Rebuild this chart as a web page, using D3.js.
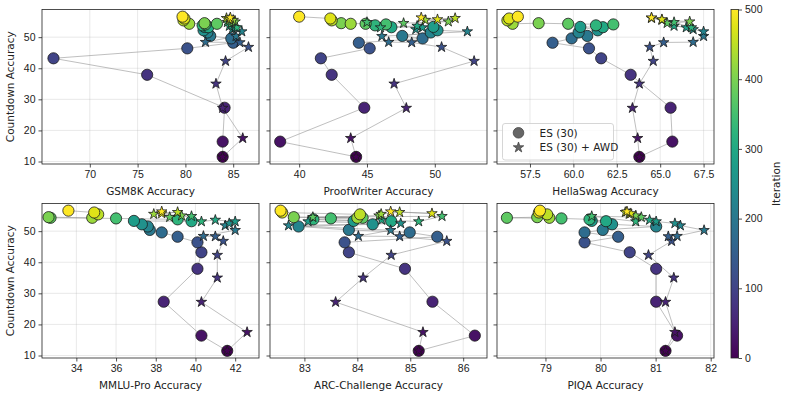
<!DOCTYPE html>
<html>
<head>
<meta charset="utf-8">
<script src="https://cdn.jsdelivr.net/npm/d3@7"></script>
<style>
  body { margin: 0; background: #fff; }
  svg { font-family: "DejaVu Sans", sans-serif; }
</style>
</head>
<body>
<svg id="chart"></svg>
<script>
// Iterations at which both runs were evaluated
const iterations = [0, 25, 50, 75, 100, 125, 150, 175, 200, 225, 250, 275, 300, 325, 350, 375, 400, 425, 450, 475, 500];

// Countdown accuracy (shared y value)
const countdownES  = [11.5, 16.4, 27.3, 37.9, 43.2, 46.4, 48.2, 49.6, 50.4, 51.5, 52.2, 53.3, 53.2, 53.8, 54.1, 54.3, 54.5, 54.3, 55.4, 56.0, 56.6];
const countdownAWD = [11.5, 17.5, 27.2, 35.0, 42.3, 46.8, 48.3, 48.4, 50.3, 51.8, 52.5, 53.1, 53.6, 53.1, 54.8, 54.5, 55.0, 55.5, 56.1, 55.7, 56.3];

// Benchmark accuracy per iteration
const gsm8kES  = [83.9, 83.9, 84.1, 76.0, 66.2, 80.2, 85.0, 84.8, 82.6, 82.3, 81.9, 82.0, 82.4, 81.8, 82.1, 83.3, 82.0, 80.4, 79.8, 79.9, 79.7];
const gsm8kAWD = [83.9, 86.0, 83.9, 83.2, 84.2, 86.6, 85.7, 82.1, 85.3, 85.9, 84.9, 85.2, 84.6, 85.4, 84.4, 84.8, 85.2, 85.0, 84.3, 84.6, 84.7];

const proofES  = [44.2, 38.6, 44.8, 42.4, 41.6, 45.2, 44.4, 49.1, 47.6, 49.7, 50.2, 49.9, 46.8, 45.6, 46.4, 44.9, 43.1, 43.8, 42.4, 42.3, 40.0];
const proofAWD = [44.2, 43.8, 47.9, 47.0, 52.9, 50.5, 48.3, 46.6, 46.1, 52.4, 48.6, 49.1, 48.7, 46.0, 45.0, 47.7, 51.0, 49.3, 51.5, 50.2, 49.0];

const hellaES  = [63.8, 65.7, 65.6, 63.3, 61.6, 60.9, 58.8, 59.9, 60.8, 60.3, 61.4, 60.4, 61.7, 61.3, 62.3, 59.7, 58.0, 56.5, 56.2, 56.3, 56.8];
const hellaAWD = [63.8, 63.7, 63.4, 63.8, 64.6, 64.4, 65.2, 66.9, 67.5, 67.5, 66.9, 66.5, 65.8, 66.8, 65.8, 65.4, 66.7, 65.1, 64.5, 65.1, 64.5];

const mmluES  = [41.6, 40.3, 38.4, 40.1, 40.3, 40.1, 39.1, 38.3, 37.7, 37.6, 37.3, 36.9, 39.8, 39.1, 36.0, 32.7, 32.6, 34.8, 35.1, 34.9, 33.6];
const mmluAWD = [41.6, 42.6, 40.3, 41.1, 41.1, 41.4, 41.0, 40.4, 42.0, 41.5, 41.7, 42.0, 41.0, 40.3, 39.8, 38.7, 39.3, 37.9, 39.1, 38.3, 38.3];

const arcES  = [85.16, 86.22, 85.42, 84.90, 83.84, 83.76, 85.51, 84.99, 83.84, 82.89, 84.29, 83.93, 84.64, 83.17, 83.50, 84.10, 82.80, 84.00, 84.05, 82.58, 82.55];
const arcAWD = [85.16, 85.24, 83.59, 84.11, 84.64, 85.69, 84.80, 84.02, 84.63, 82.70, 84.82, 83.07, 84.46, 85.16, 85.60, 83.16, 84.41, 84.45, 84.80, 85.41, 84.63];

const piqaES  = [81.18, 81.39, 81.01, 81.01, 80.53, 79.71, 80.32, 79.71, 80.04, 81.01, 80.21, 79.84, 80.10, 79.80, 79.29, 78.30, 78.85, 79.07, 79.03, 78.88, 78.90];
const piqaAWD = [81.18, 81.35, 81.18, 81.33, 80.87, 81.29, 81.23, 81.39, 81.88, 81.45, 81.35, 81.01, 80.89, 80.64, 79.84, 80.74, 80.64, 80.52, 80.45, 80.55, 80.48];

const benchmarks = ["GSM8K", "ProofWriter", "HellaSwag", "MMLU-Pro", "ARC-Challenge", "PIQA"];
const esValues  = [gsm8kES, proofES, hellaES, mmluES, arcES, piqaES];
const awdValues = [gsm8kAWD, proofAWD, hellaAWD, mmluAWD, arcAWD, piqaAWD];
const xLimits = [[65.0, 87.7], [37.85, 53.85], [55.6, 68.1], [32.27, 43.2], [82.35, 86.45], [78.12, 82.06]];
const xTicks = [[70, 75, 80, 85], [40, 45, 50], [57.5, 60, 62.5, 65, 67.5], [34, 36, 38, 40, 42], [83, 84, 85, 86], [79, 80, 81, 82]];
const yTicks = [10, 20, 30, 40, 50];
const colorTicks = [0, 100, 200, 300, 400, 500];
const legendLabels = ["ES (30)", "ES (30) + AWD"];

// Layout
const width = 787;
const height = 397;
const panelLefts = [42, 270, 497];
const panelTops = [9.5, 203.5];
const panelW = 217;
const panelH = 154.5;
const fontSize = 10.5;

const svg = d3.select("#chart")
    .attr("width", width)
    .attr("height", height)
    .attr("viewBox", [0, 0, width, height]);

const color = d3.scaleSequential(d3.interpolateViridis).domain([0, 500]);
const y = d3.scaleLinear([9.2, 58.9], [panelH, 0]);
const star = d3.symbol(d3.symbolStar, 34);

benchmarks.forEach((name, k) => {
    const col = k % 3, row = Math.floor(k / 3);
    const g = svg.append("g")
        .attr("transform", `translate(${panelLefts[col]},${panelTops[row]})`);

    const x = d3.scaleLinear(xLimits[k], [0, panelW]);
    const fmt = k === 2 ? d3.format(".1f") : d3.format("d");

    // grid
    g.append("g").selectAll("line").data(xTicks[k]).join("line")
        .attr("x1", d => x(d)).attr("x2", d => x(d))
        .attr("y1", 0).attr("y2", panelH)
        .attr("stroke", "#b0b0b0").attr("stroke-opacity", 0.35).attr("stroke-width", 0.8);
    g.append("g").selectAll("line").data(yTicks).join("line")
        .attr("y1", d => y(d)).attr("y2", d => y(d))
        .attr("x1", 0).attr("x2", panelW)
        .attr("stroke", "#b0b0b0").attr("stroke-opacity", 0.35).attr("stroke-width", 0.8);

    // axes
    g.append("g")
        .attr("transform", `translate(0,${panelH})`)
        .call(d3.axisBottom(x).tickValues(xTicks[k]).tickFormat(fmt).tickSize(3.5).tickPadding(3))
        .call(a => a.select(".domain").remove())
        .call(a => a.selectAll("text").attr("font-size", fontSize).attr("fill", "#222"))
        .call(a => a.selectAll("line").attr("stroke", "#222").attr("stroke-width", 0.8));

    g.append("g")
        .call(d3.axisLeft(y).tickValues(yTicks).tickFormat(col === 0 ? d3.format("d") : () => "").tickSize(3.5).tickPadding(3))
        .call(a => a.select(".domain").remove())
        .call(a => a.selectAll("text").attr("font-size", fontSize).attr("fill", "#222"))
        .call(a => a.selectAll("line").attr("stroke", "#222").attr("stroke-width", 0.8));

    // axis labels
    g.append("text")
        .attr("x", panelW / 2).attr("y", panelH + 31)
        .attr("text-anchor", "middle")
        .attr("font-size", fontSize).attr("fill", "#222")
        .text(`${name} Accuracy`);
    if (col === 0) {
        g.append("text")
            .attr("transform", `translate(-28,${panelH / 2}) rotate(-90)`)
            .attr("text-anchor", "middle")
            .attr("font-size", fontSize).attr("fill", "#222")
            .text("Countdown Accuracy");
    }

    const esPts = iterations.map((it, i) => ({ it, x: esValues[k][i], y: countdownES[i] }));
    const awdPts = iterations.map((it, i) => ({ it, x: awdValues[k][i], y: countdownAWD[i] }));

    const line = d3.line().x(d => x(d.x)).y(d => y(d.y));
    const clip = `clip${k}`;
    g.append("clipPath").attr("id", clip)
        .append("rect").attr("width", panelW).attr("height", panelH);

    const plot = g.append("g").attr("clip-path", `url(#${clip})`);
    [esPts, awdPts].forEach(pts => {
        plot.append("path")
            .attr("d", line(pts))
            .attr("fill", "none")
            .attr("stroke", "#888")
            .attr("stroke-opacity", 0.6)
            .attr("stroke-width", 0.9);
    });

    plot.append("g").selectAll("circle").data(esPts).join("circle")
        .attr("cx", d => x(d.x)).attr("cy", d => y(d.y))
        .attr("r", 5.6)
        .attr("fill", d => color(d.it))
        .attr("stroke", "#1a1a1a").attr("stroke-width", 0.8);

    plot.append("g").selectAll("path").data(awdPts).join("path")
        .attr("transform", d => `translate(${x(d.x)},${y(d.y)})`)
        .attr("d", star)
        .attr("fill", d => color(d.it))
        .attr("stroke", "#1a1a1a").attr("stroke-width", 0.8);

    // frame
    g.append("rect")
        .attr("width", panelW).attr("height", panelH)
        .attr("fill", "none").attr("stroke", "#222").attr("stroke-width", 0.8);

    // legend in HellaSwag panel
    if (k === 2) {
        const lg = g.append("g").attr("transform", "translate(5.5,114)");
        lg.append("rect")
            .attr("width", 111).attr("height", 36.5).attr("rx", 2.5)
            .attr("fill", "white").attr("fill-opacity", 0.8)
            .attr("stroke", "#ccc").attr("stroke-width", 0.8);
        lg.append("circle").attr("cx", 16).attr("cy", 9.3).attr("r", 5.3)
            .attr("fill", "#666").attr("stroke", "#444").attr("stroke-width", 0.8);
        lg.append("path").attr("transform", "translate(16,24)").attr("d", star)
            .attr("fill", "#666").attr("stroke", "#444").attr("stroke-width", 0.8);
        lg.selectAll("text").data(legendLabels).join("text")
            .attr("x", 37).attr("y", (d, i) => 13 + i * 14.7)
            .attr("font-size", fontSize).attr("fill", "#222")
            .text(d => d);
    }
});

// colorbar
const cbX = 731, cbY = 9.5, cbW = 7.5, cbH = 348.5;
const defs = svg.append("defs");
const grad = defs.append("linearGradient").attr("id", "viridis")
    .attr("x1", 0).attr("y1", 1).attr("x2", 0).attr("y2", 0);
d3.range(0, 1.0001, 0.05).forEach(t => {
    grad.append("stop").attr("offset", t).attr("stop-color", d3.interpolateViridis(t));
});
svg.append("rect")
    .attr("x", cbX).attr("y", cbY).attr("width", cbW).attr("height", cbH)
    .attr("fill", "url(#viridis)")
    .attr("stroke", "#222").attr("stroke-width", 0.8);
const cScale = d3.scaleLinear([0, 500], [cbH, 0]);
svg.append("g")
    .attr("transform", `translate(${cbX + cbW},${cbY})`)
    .call(d3.axisRight(cScale).tickValues(colorTicks).tickSize(3.5).tickPadding(3))
    .call(a => a.select(".domain").remove())
    .call(a => a.selectAll("text").attr("font-size", fontSize).attr("fill", "#222"))
    .call(a => a.selectAll("line").attr("stroke", "#222").attr("stroke-width", 0.8));
svg.append("text")
    .attr("transform", `translate(780,${cbY + cbH / 2}) rotate(-90)`)
    .attr("text-anchor", "middle")
    .attr("font-size", fontSize).attr("fill", "#222")
    .text("Iteration");
</script>
</body>
</html>
